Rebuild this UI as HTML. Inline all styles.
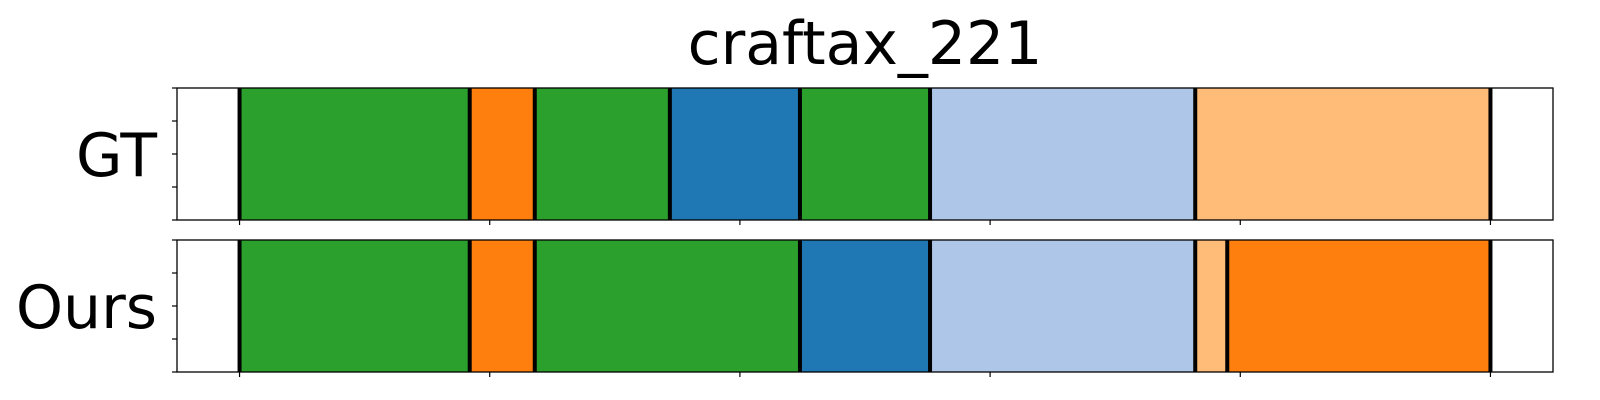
<!DOCTYPE html>
<html><head><meta charset="utf-8"><style>
html,body{margin:0;padding:0;background:#fff;}
svg{display:block;font-family:"DejaVu Sans","Liberation Sans",sans-serif;}
</style></head><body>
<svg id="chart" width="1600" height="400" viewBox="0 0 1600 400"></svg>
<script>
const rowLabels = ["GT", "Ours"];
const gtBounds = [0, 46, 59, 86, 112, 138, 191, 250];
const gtColors = ["#2ca02c", "#ff7f0e", "#2ca02c", "#1f77b4", "#2ca02c", "#aec7e8", "#ffbb78"];
const oursBounds = [0, 46, 59, 112, 138, 191, 197.4, 250];
const oursColors = ["#2ca02c", "#ff7f0e", "#2ca02c", "#1f77b4", "#aec7e8", "#ffbb78", "#ff7f0e"];
const xTicks = [0, 50, 100, 150, 200, 250];
const xMin = -12.5, xMax = 262.5;

const NS = "http://www.w3.org/2000/svg";
const svg = document.getElementById("chart");
const L = 177, R = 1553;
function xs(v){ return L + (v - xMin) / (xMax - xMin) * (R - L); }
function mk(tag, attrs, parent){
  const e = document.createElementNS(NS, tag);
  for (const k in attrs) e.setAttribute(k, attrs[k]);
  (parent || svg).appendChild(e);
  return e;
}
const title = mk("text", {x: 865, y: 64, "text-anchor": "middle", "font-size": 60, fill: "#000"});
title.textContent = "craftax_221";



const panels = [{top: 88, bounds: gtBounds, colors: gtColors}, {top: 240, bounds: oursBounds, colors: oursColors}];
const H = 132;
panels.forEach((p, pi) => {
  const g = mk("g", {});
  
  
  for (let i = 0; i < p.colors.length; i++) {
    const x0 = xs(p.bounds[i]), x1 = xs(p.bounds[i + 1]);
    const r = mk("rect", {x: x0, y: p.top, width: x1 - x0, height: H, fill: p.colors[i]}, g);
    
    
  }
  p.bounds.forEach(b => {
    const ln = mk("line", {x1: xs(b), x2: xs(b), y1: p.top, y2: p.top + H, stroke: "#000", "stroke-width": 4}, g);
    
    
  });
  const frame = mk("rect", {x: L, y: p.top, width: R - L, height: H, fill: "none", stroke: "#000", "stroke-width": 1.3}, g);
  
  
  for (let k = 0; k <= 4; k++) {
    const y = p.top + k * H / 4;
    const t = mk("line", {x1: L - 5, x2: L, y1: y, y2: y, stroke: "#000", "stroke-width": 1.2}, g);
    
    
  }
  xTicks.forEach(v => {
    const t = mk("line", {x1: xs(v), x2: xs(v), y1: p.top + H, y2: p.top + H + 5, stroke: "#000", "stroke-width": 1.2}, g);
    
    
  });
  const lab = mk("text", {x: 157, y: p.top + H / 2 + 22, "text-anchor": "end", "font-size": 60, fill: "#000"}, g);
  lab.textContent = rowLabels[pi];
  
  
});
</script>
</body></html>
